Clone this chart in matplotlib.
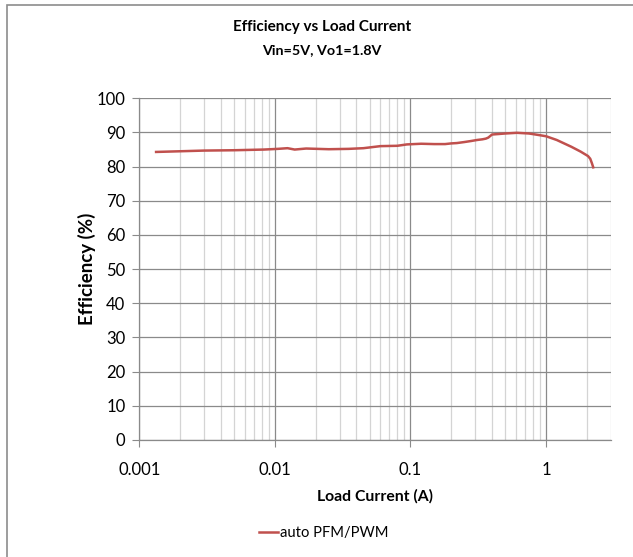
import matplotlib
matplotlib.use("Agg")
import matplotlib.pyplot as plt
from matplotlib.ticker import LogLocator, FixedLocator, NullFormatter, FixedFormatter
from matplotlib.patches import Rectangle

plt.rcParams['font.family'] = ['Lato', 'DejaVu Sans']

load_current = [0.00133, 0.002, 0.003, 0.005, 0.0083, 0.0105, 0.0124, 0.014, 0.017,
                0.025, 0.035, 0.045, 0.06, 0.08, 0.094, 0.12, 0.15, 0.18, 0.2,
                0.22, 0.25, 0.28, 0.31, 0.34, 0.36, 0.375, 0.40, 0.5, 0.61,
                0.75, 0.9, 1.0, 1.2, 1.54, 1.8, 2.04, 2.12, 2.18, 2.23]
efficiency = [84.3, 84.5, 84.7, 84.8, 85.0, 85.2, 85.4, 85.0, 85.3,
              85.1, 85.2, 85.4, 86.0, 86.1, 86.5, 86.7, 86.6, 86.6, 86.8,
              86.9, 87.2, 87.5, 87.8, 88.0, 88.2, 88.5, 89.4, 89.7, 89.9,
              89.7, 89.2, 88.9, 87.8, 85.8, 84.4, 83.1, 82.3, 81.0, 79.8]

series_name = "auto PFM/PWM"
title = "Efficiency vs Load Current"
subtitle = "Vin=5V, Vo1=1.8V"
x_label = "Load Current (A)"
y_label = "Efficiency (%)"
x_ticks = [0.001, 0.01, 0.1, 1]
x_tick_labels = ["0.001", "0.01", "0.1", "1"]
y_ticks = list(range(0, 101, 10))

fig = plt.figure(figsize=(6.33, 5.57), dpi=100)
fig.patches.append(Rectangle((6.5/633, -0.1), 1.2, 1.1 - 5/557, transform=fig.transFigure,
                             fill=False, edgecolor='#8c8c8c', linewidth=1.2))

ax = fig.add_axes([139.3/633, 1-440/557, (610.7-139.3)/633, (440-98.3)/557])
ax.set_xscale('log')
ax.set_xlim(0.001, 3)
ax.set_ylim(0, 100)

ax.xaxis.set_major_locator(FixedLocator(x_ticks))
ax.xaxis.set_major_formatter(FixedFormatter(x_tick_labels))
ax.xaxis.set_minor_locator(LogLocator(base=10, subs=range(2, 10)))
ax.xaxis.set_minor_formatter(NullFormatter())
ax.set_yticks(y_ticks)

ax.grid(True, which='major', axis='both', color='#8a8a8a', linewidth=0.9)
ax.grid(True, which='minor', axis='x', color='#d4d4d4', linewidth=0.9)
ax.set_axisbelow(True)

for s in ['top', 'right']:
    ax.spines[s].set_visible(False)
for s in ['left', 'bottom']:
    ax.spines[s].set_color('#8a8a8a')
    ax.spines[s].set_linewidth(0.9)

ax.tick_params(axis='both', which='major', direction='out', length=5, color='#8a8a8a',
               labelsize=12, pad=5)
ax.tick_params(axis='x', which='minor', length=0)
ax.tick_params(axis='x', which='major', pad=11)

ax.plot(load_current, efficiency, color='#c0504d', linewidth=1.8, label=series_name)

fig.text(322/633, 1-27/557, title, ha='center', va='center', fontsize=11, fontweight='bold')
fig.text(322/633, 1-50/557, subtitle, ha='center', va='center', fontsize=10.3, fontweight='bold')
ax.set_xlabel(x_label, fontsize=11.3, fontweight='bold')
ax.xaxis.set_label_coords(0.5, -(496 - 440) / (440 - 98.3))
ax.xaxis.label.set_va('center')
ax.set_ylabel(y_label, fontsize=13.5, fontweight='bold')
ax.yaxis.set_label_coords((87 - 139.3) / (610.7 - 139.3), 0.5)
ax.yaxis.label.set_va('center')

leg = fig.legend(loc='center left', bbox_to_anchor=(259/633, 1-533/557), frameon=False,
                 fontsize=10.6, handlelength=1.3, handletextpad=0.15, borderpad=0, borderaxespad=0)

fig.savefig("out.png", dpi=100, facecolor='white')
